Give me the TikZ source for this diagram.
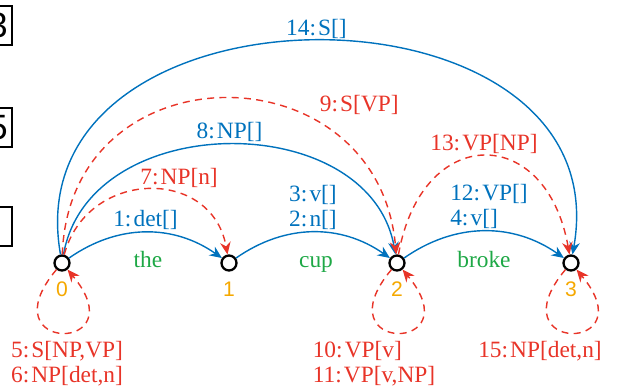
\documentclass[tikz,border=0pt]{standalone}
\usepackage{fontspec}
\setmainfont{Liberation Serif}
\newfontfamily\idxfont{Liberation Sans}
\usetikzlibrary{arrows.meta}
\definecolor{edgeblue}{RGB}{0,114,189}
\definecolor{edgered}{RGB}{232,52,40}
\definecolor{wordgreen}{RGB}{30,168,70}
\definecolor{idxorange}{RGB}{245,168,0}
\newcommand{\cl}{:\kern1.2pt}

\begin{document}
\begin{tikzpicture}[align=left, inner sep=1pt,
    font=\fontsize{13.3}{14.5}\selectfont,
    vtx/.style={circle, draw, line width=1.3pt, minimum size=0.3cm, inner sep=0pt},
    word/.style={text=wordgreen, anchor=base},
    idx/.style={text=idxorange, font=\idxfont\fontsize{12}{14}\selectfont},
    box/.style={draw, line width=1pt, minimum width=0.56cm, minimum height=0.78cm, font=\idxfont\fontsize{20}{22}\selectfont},
    done/.style={edgeblue, line width=0.8pt, -{Stealth[length=7pt,width=6pt]}},
    pred/.style={edgered, line width=0.8pt, dash pattern=on 4pt off 3pt, -{Stealth[length=7pt,width=6pt]}},
    self/.style={out=230, in=310, distance=2.2cm}]
    \useasboundingbox (0,0) rectangle (12.52,7.8);
    \clip (0,0) rectangle (12.52,7.8);
    % cut-off boxes at the left edge
    \node[box] at (-0.04, 7.29) (b1) {3};
    \node[box] at (-0.04, 5.25) (b2) {5};
    \node[box] at (-0.04, 3.27) (b3) {};
    % chart vertices
    \node[vtx] at (1.24, 2.54) (n0) {};
    \node[vtx] at (4.58, 2.54) (n1) {};
    \node[vtx] at (7.94, 2.54) (n2) {};
    \node[vtx] at (11.42, 2.54) (n3) {};
    \node[idx] at (1.24, 2.02) (i0) {0};
    \node[idx] at (4.58, 2.02) (i1) {1};
    \node[idx] at (7.94, 2.02) (i2) {2};
    \node[idx] at (11.42, 2.02) (i3) {3};
    \node[word] at (2.96, 2.44) (w1) {the};
    \node[word] at (6.32, 2.44) (w2) {cup};
    \node[word] at (9.68, 2.44) (w3) {broke};
    \draw
    (n0) edge[done, out=35, in=145] node[above] {1\cl det[]} (n1)
    (n1) edge[done, out=35, in=145] node[above] {3\cl v[]\\2\cl n[]} (n2)
    (n2) edge[done, out=35, in=145] node[above, xshift=0.1cm] {12\cl VP[]\\4\cl v[]} (n3)
    (n0) edge[done, out=80, in=100, looseness=1.15] node[above] {8\cl NP[]} (n2)
    (n0) edge[done, out=100, in=80, looseness=1.45] node[above] {14\cl S[]} (n3)

    (n0) edge[pred, out=75, in=100, looseness=1.4] node[pos=0.45, anchor=south west] {7\cl NP[n]} (n1)
    (n0) edge[pred, out=88, in=95, looseness=1.6] node[pos=0.7, anchor=south west, yshift=0.12cm] {9\cl S[VP]} (n2)
    (n2) edge[pred, out=80, in=100, looseness=2.0] node[above] {13\cl VP[NP]} (n3)
    (n0) edge[pred, self] node[below, xshift=0.1cm, yshift=-0.12cm] {5\cl S[NP,VP]\\6\cl NP[det,n]} (n0)
    (n2) edge[pred, self] node[below, xshift=-0.46cm, yshift=-0.12cm] {10\cl VP[v]\\11\cl VP[v,NP]} (n2)
    (n3) edge[pred, self] node[below, xshift=-0.62cm, yshift=-0.12cm] {15\cl NP[det,n]} (n3);
\end{tikzpicture}
\end{document}
